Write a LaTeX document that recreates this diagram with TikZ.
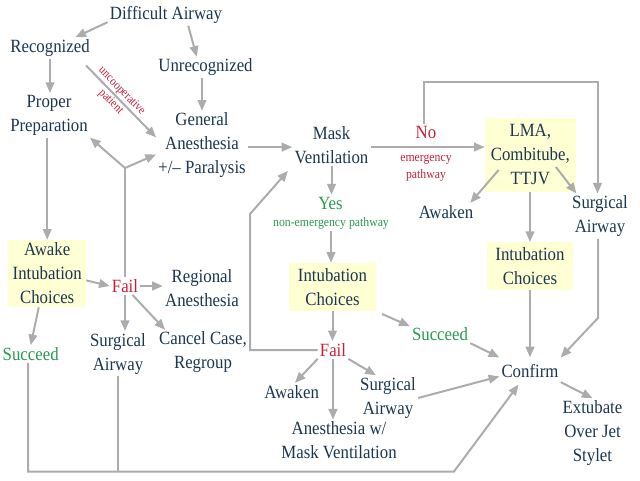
\documentclass[tikz,border=0pt]{standalone}
\usepackage{fontspec}
\setmainfont{Liberation Serif}[FakeStretch=0.9]
\usetikzlibrary{arrows.meta,calc}
\definecolor{txt}{RGB}{26,54,80}
\definecolor{redt}{RGB}{196,32,58}
\definecolor{grnt}{RGB}{40,152,80}
\definecolor{boxf}{RGB}{255,255,212}
\definecolor{lin}{RGB}{172,172,172}
\begin{document}
\begin{tikzpicture}[x=0.75pt,y=-0.75pt,
  lbl/.style={text=txt, font=\fontsize{14}{18}\selectfont, align=center, inner sep=1.5pt},
  redl/.style={lbl, text=redt},
  grnl/.style={lbl, text=grnt},
  smallred/.style={text=redt, font=\fontsize{9.8}{13}\selectfont, align=center, inner sep=1pt},
  smallgrn/.style={text=grnt, font=\fontsize{9.8}{13}\selectfont, align=center, inner sep=1pt},
  ybox/.style={lbl, fill=boxf, inner sep=0pt},
  arr/.style={draw=lin, line width=1.5pt, -{Triangle[length=8pt,width=6.5pt]}},
  ln/.style={draw=lin, line width=1.5pt}]
\useasboundingbox (0,0) rectangle (640,480);

% nodes
\node[lbl] (diff) at (166,15) {Difficult Airway};
\node[lbl] (rec) at (50,48) {Recognized};
\node[lbl] (unrec) at (205.5,67.5) {Unrecognized};
\node[lbl] (prep) at (49,115.3) {Proper\\Preparation};
\node[lbl] (ga) at (202,145.5) {General\\Anesthesia\\+/– Paralysis};
\node[lbl] (mask) at (331.5,145) {Mask\\Ventilation};
\node[redl] (no) at (426,132.7) {No};
\node[smallred] (emerg) at (426,168) {emergency\\pathway};
\node[ybox, minimum width=68pt, minimum height=55.5pt] (lma) at (530.3,154.7) {LMA,\\Combitube,\\TTJV};
\node[lbl] (awR) at (446,211.7) {Awaken};
\node[lbl] (surgR) at (600,216.3) {Surgical\\Airway};
\node[ybox, minimum width=65pt, minimum height=35.8pt] (intR) at (530,266.2) {Intubation\\Choices};
\node[grnl] (yes) at (330.5,203) {Yes};
\node[smallgrn] (nonem) at (331,223.3) {non-emergency pathway};
\node[ybox, minimum width=64.8pt, minimum height=36pt] (intM) at (332.5,287) {Intubation\\Choices};
\node[ybox, minimum width=58.3pt, minimum height=50.3pt] (awake) at (47.2,273.5) {Awake\\Intubation\\Choices};
\node[redl] (failL) at (125,286) {Fail};
\node[lbl] (reg) at (202,288) {Regional\\Anesthesia};
\node[lbl] (surgL) at (118,353.7) {Surgical\\Airway};
\node[lbl] (cancel) at (203,352.5) {Cancel Case,\\Regroup};
\node[grnl] (succL) at (30.7,354) {Succeed};
\node[redl] (failM) at (333,350) {Fail};
\node[grnl] (succM) at (440,334.3) {Succeed};
\node[lbl] (awM) at (291.7,391.7) {Awaken};
\node[lbl] (surgM) at (388,398) {Surgical\\Airway};
\node[lbl] (anes) at (339,440.5) {Anesthesia w/\\Mask Ventilation};
\node[lbl, inner ysep=5pt] (conf) at (530,371) {Confirm};
\node[lbl] (ext) at (592.5,433) {Extubate\\Over Jet\\Stylet};

% helper coordinates
\coordinate (jL) at (125,168);
\coordinate (bl) at (28,471.5);
\coordinate (br) at (454,471.5);
\coordinate (fm1) at (250,350);
\coordinate (fm2) at (250,214);
\coordinate (nlA) at (424,81.5);
\coordinate (nlB) at (597.5,81.5);
\coordinate (sr1) at (598,318);

% connectors
\draw[arr] (diff.187) -- (rec.23);
\draw[arr] (diff.-26) -- (unrec.129);
\draw[arr] (rec.south) -- (rec.south |- prep.north);
\draw[arr, shorten <=7pt] (rec.-20) -- node[sloped, pos=0.48, text=redt, font=\fontsize{9.1}{11.5}\selectfont, align=center, inner sep=0pt] (unc) {uncooperative\\patient} (ga.170);
\draw[arr] (ga.north |- unrec.south) -- (ga.north);
\draw[arr] (ga.-2) -- (ga.-2 -| mask.west);
\draw[arr] (awake.north |- prep.south) -- (awake.north);
\draw[ln] (failL.north) -- (jL);
\draw[arr] (jL) -- (prep.south east);
\draw[arr] (jL) -- (ga.191);
\draw[arr] (awake.-10) -- (failL.west);
\draw[arr] (failL.east) -- (failL.east -| reg.west);
\draw[arr] (failL.south) -- (failL.south |- surgL.north);
\draw[arr] (failL.-50) -- (cancel.149);
\draw[arr] (awake.-104) -- (succL.north);
\draw[arr] (succL.south -| bl) -- (bl) -- (br) -- (conf.-130);
\draw[ln] (surgL.south) -- (surgL.south |- bl);
\draw[arr, shorten >=5pt] (failM.west) -- (fm1) -- (fm2) -- (mask.south west);
\draw[arr] (mask.south) -- (mask.south |- yes.north);
\draw[arr] (nonem.south) -- (nonem.south |- intM.north);
\draw[arr] (intM.south) -- (intM.south |- failM.north);
\draw[arr, shorten <=5pt] (intM.south east) -- (succM.165);
\draw[arr] (succM.south east) -- (conf.north west);
\draw[arr] (failM.south west) -- (awM.70);
\draw[arr] (failM.south) -- (failM.south |- anes.north);
\draw[arr] (failM.south east) -- (surgM.118);
\draw[arr] (surgM.east) -- (conf.190);
\draw[arr] (mask.-3) -- (mask.-3 -| lma.west);
\draw[arr] (no.north -| nlA) -- (nlA) -- (nlB) -- (nlB |- surgR.north);
\draw[arr] ($(lma.south west)+(14,-22)$) -- (awR.20);
\draw[arr] ($(lma.south east)+(-20,-25)$) -- (surgR.136);
\draw[arr] (intR.north |- lma.south) -- (intR.north);
\draw[arr] (intR.south) -- (intR.south |- conf.north);
\draw[arr] (surgR.south -| sr1) -- (sr1) -- (conf.north east);
\draw[arr] (conf.-20) -- (ext.north);
\end{tikzpicture}
\end{document}
